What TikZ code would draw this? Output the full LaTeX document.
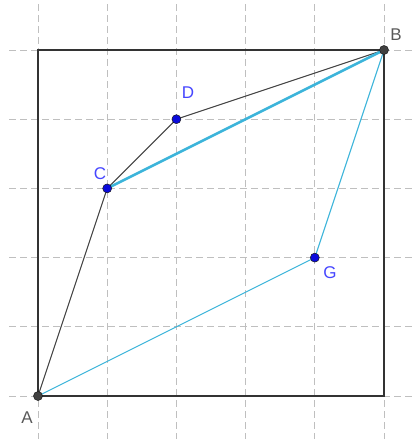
\documentclass[tikz,border=0pt]{standalone}
\usepackage{fontspec}
\setmainfont{Liberation Sans}
\definecolor{ggblue}{RGB}{60,180,218}
\definecolor{ptblue}{RGB}{10,10,220}
\definecolor{labblue}{RGB}{70,70,255}
\begin{document}
\begin{tikzpicture}[x=1pt,y=-1pt,
  gridline/.style={draw=gray!50, line width=0.9pt, dash pattern=on 7pt off 4pt},
  frame/.style={draw=black!80, line width=1.4pt},
  seg/.style={draw=black!75, line width=1.1pt},
  bseg/.style={draw=ggblue, line width=1.1pt},
  bthick/.style={draw=ggblue, line width=2.5pt},
  gpt/.style={circle, fill=black!75, draw=black!90, line width=0.5pt, inner sep=0pt, minimum size=9pt},
  bpt/.style={circle, fill=ptblue, draw=black!90, line width=0.5pt, inner sep=0pt, minimum size=9pt},
  glab/.style={text=black!65, font=\fontsize{17}{17}\selectfont},
  blab/.style={text=labblue, font=\fontsize{17}{17}\selectfont}]
\useasboundingbox (0,0) rectangle (412,439);
\foreach \x in {38,107.2,176.4,245.6,314.8,384} \draw[gridline] (\x,4) -- (\x,439);
\foreach \y in {50,119.2,188.4,257.6,326.8,396} \draw[gridline] (9,\y) -- (412,\y);
\coordinate (A) at (38,396);
\coordinate (B) at (384,50);
\coordinate (C) at (107.2,188.4);
\coordinate (D) at (176.4,119.2);
\coordinate (G) at (314.8,257.6);
\draw[frame] (38,50) rectangle (384,396);
\draw[seg] (A) -- (C) -- (D) -- (B);
\draw[bseg] (A) -- (G) -- (B);
\draw[bthick] (C) -- (B);
\node[gpt] (pA) at (A) {};
\node[gpt] (pB) at (B) {};
\node[bpt] (pC) at (C) {};
\node[bpt] (pD) at (D) {};
\node[bpt] (pG) at (G) {};
\node[glab] (lA) at (27,418) {A};
\node[glab] (lB) at (396,35) {B};
\node[blab] (lC) at (100,174) {C};
\node[blab] (lD) at (188,93) {D};
\node[blab] (lG) at (330,273) {G};
\end{tikzpicture}
\end{document}
